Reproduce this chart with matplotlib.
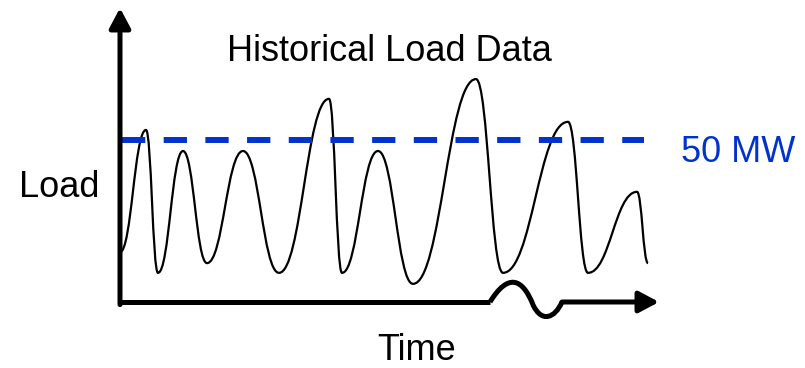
import numpy as np
import matplotlib
matplotlib.use("Agg")
import matplotlib.pyplot as plt
from matplotlib.path import Path
from matplotlib.patches import PathPatch, ArrowStyle

plt.rcParams["font.family"] = ["Liberation Sans", "DejaVu Sans"]

# peaks and troughs of the load trace (time in h, load in MW)
time_h = [0, 6.5, 9.5, 15.75, 21.75, 30.75, 39.75, 52.25, 55.5, 64.5,
          73.25, 89, 95.75, 112, 117, 129.25, 132]
load_mw = [15.4, 53.1, 9.0, 46.6, 12.0, 46.6, 9.0, 62.7, 9.0, 46.6,
           5.6, 68.8, 9.0, 55.6, 9.0, 34.0, 12.0]
threshold_mw = 50
threshold_label = "50 MW"

W, H = 805, 368
fig = plt.figure(figsize=(W / 100, H / 100), dpi=100)

# axes box in pixels: y axis at x=120, time axis at y=302
x0_px, y0_px, x1_px, y1_px = 120, 302, 659, 8
ax = fig.add_axes([x0_px / W, 1 - y0_px / H, (x1_px - x0_px) / W, (y0_px - y1_px) / H])
ax.set_xlim(0, (x1_px - x0_px) / 4)
ax.set_ylim(0, (y0_px - y1_px) / 3.24)
ax.axis("off")


def smooth_path(xs, ys, k=0.45):
    # bezier through extrema with flat tangents at every point
    verts = [(xs[0], ys[0])]
    codes = [Path.MOVETO]
    for i in range(1, len(xs)):
        dx = xs[i] - xs[i - 1]
        verts += [(xs[i - 1] + k * dx, ys[i - 1]), (xs[i] - k * dx, ys[i]), (xs[i], ys[i])]
        codes += [Path.CURVE4] * 3
    return Path(verts, codes)


trace = smooth_path(time_h, load_mw)
ax.add_patch(PathPatch(trace, fill=False, lw=1.6, color="black", clip_on=False))

# threshold line
ax.plot([0.5, 131], [threshold_mw, threshold_mw], color="#0033cc", lw=4.3,
        dashes=(3.9, 3.08), clip_on=False, solid_capstyle="butt")

# y axis arrow
xmax = ax.get_xlim()[1]
ymax = ax.get_ylim()[1]
arrow = ArrowStyle("-|>", head_length=0.6, head_width=0.32)
ax.annotate("", xy=(0, ymax), xytext=(0, -0.8),
            arrowprops=dict(arrowstyle=arrow, lw=3.6, color="black",
                            mutation_scale=20, shrinkA=0, shrinkB=0),
            annotation_clip=False)

# time axis with a break squiggle
brk0, brk1 = 92.5, 110.5
ax.plot([0, brk0], [0, 0], color="black", lw=3.6, solid_capstyle="butt", clip_on=False)
bw = brk1 - brk0
squig = Path([(brk0, 0), (brk0 + 0.25 * bw, 9.0), (brk0 + 0.45 * bw, 7.5),
              (brk0 + 0.6 * bw, -1.0),
              (brk0 + 0.72 * bw, -6.5), (brk0 + 0.9 * bw, -5.0), (brk1, 0)],
             [Path.MOVETO, Path.CURVE4, Path.CURVE4, Path.CURVE4,
              Path.CURVE4, Path.CURVE4, Path.CURVE4])
ax.add_patch(PathPatch(squig, fill=False, lw=3.6, color="black", clip_on=False))
ax.annotate("", xy=(xmax, 0), xytext=(brk1, 0),
            arrowprops=dict(arrowstyle=arrow, lw=3.6, color="black",
                            mutation_scale=20, shrinkA=0, shrinkB=0),
            annotation_clip=False)

fs = 26
fig.text(389 / W, 1 - 61 / H, "Historical Load Data", ha="center", va="baseline", fontsize=fs)
fig.text(59 / W, 1 - 197 / H, "Load", ha="center", va="baseline", fontsize=fs)
fig.text(417 / W, 1 - 360 / H, "Time", ha="center", va="baseline", fontsize=fs)
fig.text(738 / W, 1 - 162 / H, threshold_label, ha="center", va="baseline",
         fontsize=fs, color="#0033cc")

fig.savefig("out.png", dpi=100)
